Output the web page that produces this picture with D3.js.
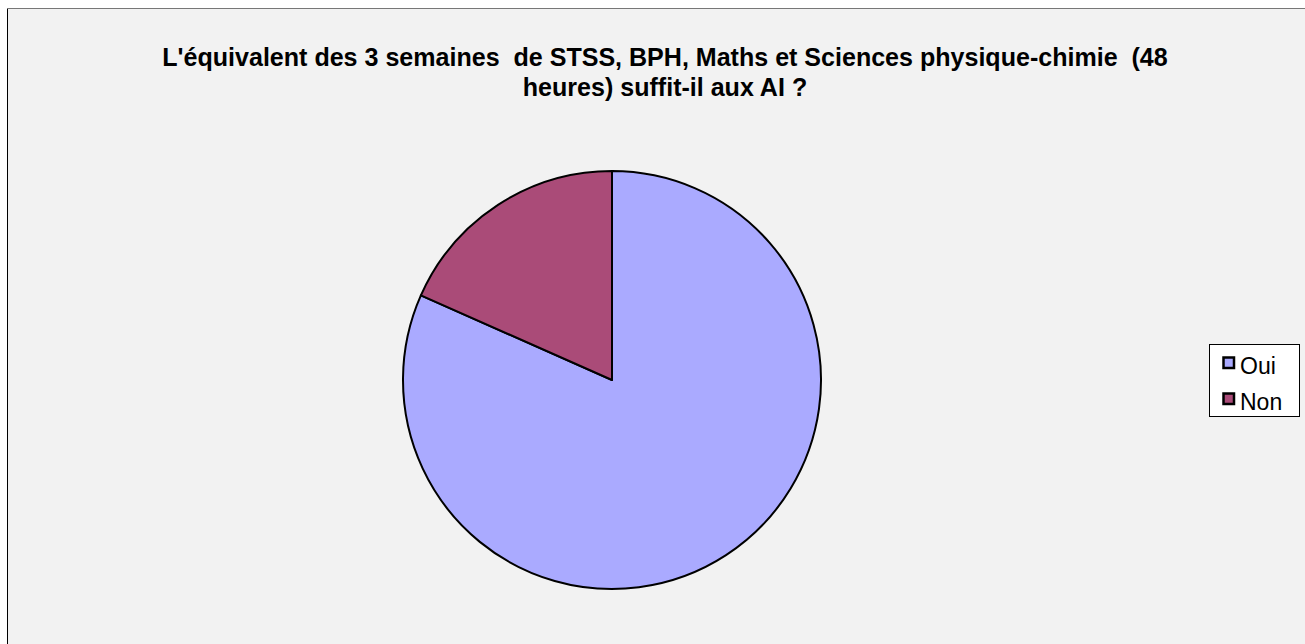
<!DOCTYPE html>
<html><head><meta charset="utf-8">
<script src="https://cdn.jsdelivr.net/npm/d3@7"></script>
<style>html,body{margin:0;padding:0;background:#fff;}svg{display:block;} text{white-space:pre;}</style>
</head><body>
<script>
const categories = ["Oui", "Non"];
const values = [40, 9];
const colors = ["#AAAAFF", "#AA4B78"];
const titleLines = ["L'équivalent des 3 semaines  de STSS, BPH, Maths et Sciences physique-chimie  (48", "heures) suffit-il aux AI ?"];

const W = 1305, H = 644;
const FONT = "Liberation Sans, Arial, sans-serif";
const svg = d3.select("body").append("svg").attr("width", W).attr("height", H);
svg.append("rect").attr("x", 0).attr("y", 0).attr("width", W).attr("height", H).attr("fill", "#fff");
svg.append("rect").attr("x", 7.5).attr("y", 8.5).attr("width", W + 10).attr("height", H + 10)
  .attr("fill", "#F2F2F2").attr("stroke", "#000").attr("stroke-width", 1);
svg.append("line").attr("x1", 7).attr("x2", W).attr("y1", 8.5).attr("y2", 8.5).attr("stroke", "#777").attr("stroke-width", 1);

// Title: scale horizontally so line 1 spans the reference width
const titleW = 1006, titleCx = 665;
const tg = svg.append("g");
const tl = titleLines.map((t, i) => tg.append("text")
  .attr("text-anchor", "middle").attr("x", 0).attr("y", 0)
  .attr("font-family", FONT).attr("font-size", 25).attr("font-weight", "bold").attr("fill", "#000")
  .attr("xml:space", "preserve").text(t));
const sx = titleW / tl[0].node().getComputedTextLength();
tl.forEach((t, i) => t.attr("transform", `translate(${titleCx},${65.5 + i * 30}) scale(${sx},1)`));

const cx = 612, cy = 380, r = 209;
const pie = d3.pie().sort(null).value(d => d)(values);
const arc = d3.arc().innerRadius(0).outerRadius(r);
const g = svg.append("g").attr("transform", `translate(${cx},${cy})`);
g.selectAll("path").data(pie).join("path")
  .attr("d", arc).attr("fill", (d, i) => colors[i])
  .attr("stroke", "#000").attr("stroke-width", 2).attr("stroke-linejoin", "round");

const lg = svg.append("g");
lg.append("rect").attr("x", 1209.5).attr("y", 344.5).attr("width", 90).attr("height", 72)
  .attr("fill", "#fff").attr("stroke", "#000").attr("stroke-width", 1);
categories.forEach((c, i) => {
  const base = 374 + i * 36;
  lg.append("rect").attr("x", 1223.5).attr("y", base - 16.5).attr("width", 10.5).attr("height", 10.5)
    .attr("fill", colors[i]).attr("stroke", "#000").attr("stroke-width", 2.5);
  lg.append("text").attr("x", 1240).attr("y", base).attr("font-family", FONT)
    .attr("font-size", 23).attr("fill", "#000").text(c);
});
</script>
</body></html>
